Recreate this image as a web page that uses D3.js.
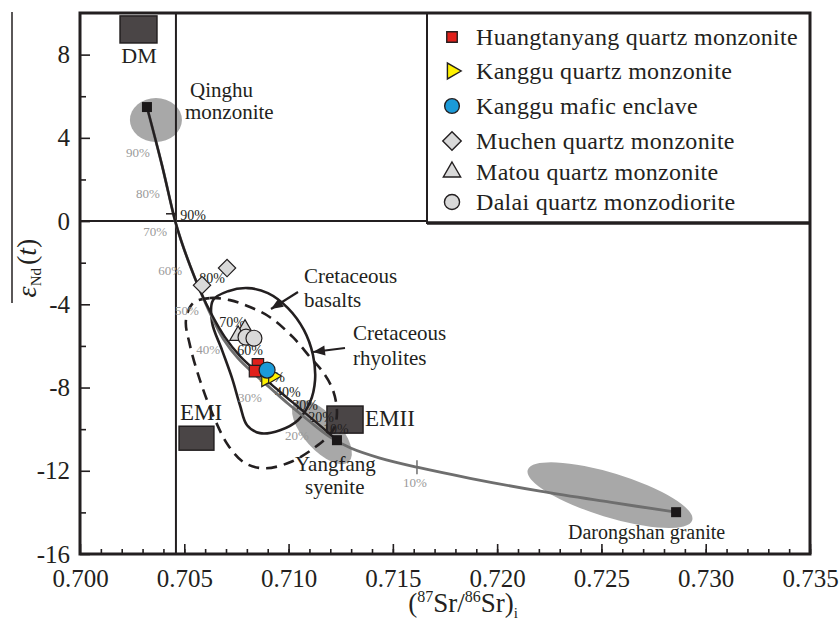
<!DOCTYPE html>
<html>
<head>
<meta charset="utf-8">
<script src="https://cdn.jsdelivr.net/npm/d3@7"></script>
<style>
  body { margin: 0; background: #fff; }
  text { font-family: "Liberation Serif", "DejaVu Serif", serif; fill: #231f20; }
</style>
</head>
<body>
<svg id="chart"></svg>
<script>
// sample groups  [87Sr/86Sr, eNd(t)]
const huangtanyang = [[0.70853, -6.88], [0.70839, -7.21]];
const kangguQM = [[0.70892, -7.60], [0.70925, -7.45]];
const kangguME = [[0.70897, -7.16]];
const muchen = [[0.70705, -2.26], [0.70585, -3.08]];
const matou = [[0.70791, -5.20], [0.70758, -5.50]];
const dalai = [[0.70796, -5.58], [0.70834, -5.63]];

// end-members of the mixing curves
const endMembers = [
  { name: 'Qinghu', x: 0.70321, y: 5.48 },
  { name: 'Yangfang', x: 0.71232, y: -10.53 },
  { name: 'Darongshan', x: 0.72858, y: -13.99 }
];

// mantle reservoir boxes [x0, x1, y0, y1]
const reservoirs = [
  { name: 'DM', box: [0.70192, 0.70369, 8.56, 9.86] },
  { name: 'EMI', box: [0.70475, 0.70642, -11.01, -9.86] },
  { name: 'EMII', box: [0.71184, 0.71357, -10.19, -8.89] }
];

// Qinghu - Yangfang mixing curve
const curveQY = [
  [0.70321, 5.48], [0.70393, 2.69], [0.70455, 0.05], [0.70484, -0.91], [0.70527, -2.12],
  [0.70575, -3.32], [0.70633, -4.52], [0.70695, -5.58], [0.70767, -6.49], [0.70844, -7.21],
  [0.70921, -7.88], [0.71007, -8.61], [0.71103, -9.42], [0.71232, -10.53]
];
// Qinghu - Darongshan mixing curve
const curveQD = [
  [0.70321, 5.48], [0.70393, 2.69], [0.70455, 0.05], [0.70484, -0.91], [0.70527, -2.12],
  [0.70575, -3.32], [0.70630, -4.56], [0.70688, -5.68], [0.70758, -6.60], [0.70835, -7.34],
  [0.70912, -8.02], [0.70998, -8.78], [0.71100, -9.62], [0.71200, -10.38], [0.71300, -10.92],
  [0.71438, -11.39], [0.71616, -11.83], [0.71870, -12.36], [0.72206, -12.98], [0.72541, -13.51],
  [0.72858, -13.99]
];

const pctLabels = ['90%', '80%', '70%', '60%', '50%', '40%', '30%', '20%', '10%'];
const pctQY = [
  [0.70542, 0.29], [0.70633, -2.74], [0.70729, -4.86], [0.70815, -6.20], [0.70921, -7.50],
  [0.70997, -8.22], [0.71079, -8.85], [0.71156, -9.42], [0.71227, -10.00]
];
const pctQD = [
  [0.70278, 3.32], [0.70326, 1.35], [0.70360, -0.48], [0.70432, -2.36], [0.70513, -4.28],
  [0.70614, -6.15], [0.70815, -8.46], [0.71040, -10.29], [0.71606, -12.55]
];

// Cretaceous fields
const basalts = [
  [0.70638, -3.80], [0.70710, -3.37], [0.70805, -3.22], [0.70901, -3.46], [0.70997, -4.18],
  [0.71074, -5.24], [0.71117, -6.44], [0.71127, -7.64], [0.71103, -8.70], [0.71045, -9.57],
  [0.70959, -10.05], [0.70863, -10.19], [0.70801, -9.81], [0.70767, -8.85], [0.70729, -7.55],
  [0.70681, -6.20], [0.70633, -4.86]
];
const rhyolites = [
  [0.70542, -3.94], [0.70623, -3.70], [0.70719, -3.80], [0.70815, -4.13], [0.70911, -4.62],
  [0.71021, -5.58], [0.71103, -6.54], [0.71165, -7.26], [0.71213, -8.13], [0.71232, -9.23],
  [0.71213, -10.05], [0.71127, -10.87], [0.71007, -11.59], [0.70887, -11.88], [0.70791, -11.63],
  [0.70710, -10.77], [0.70638, -9.33], [0.70575, -7.64], [0.70527, -5.96], [0.70508, -4.76]
];

// composition fields of the end-members (centres)
const fields = [
  { x: 0.70364, y: 4.86 },
  { x: 0.71160, y: -10.14 },
  { x: 0.72541, y: -13.17 }
];

const chur = 0.7046;
const xTicks = [0.700, 0.705, 0.710, 0.715, 0.720, 0.725, 0.730, 0.735];
const yTicks = [-16, -12, -8, -4, 0, 4, 8];

const legendNames = [
  'Huangtanyang quartz monzonite',
  'Kanggu quartz monzonite',
  'Kanggu mafic enclave',
  'Muchen quartz monzonite',
  'Matou quartz monzonite',
  'Dalai quartz monzodiorite'
];

(() => {
  const ink = '#231f20';
  const svg = d3.select('#chart').attr('width', 840).attr('height', 624);

  const x = d3.scaleLinear().domain([0.700, 0.735]).range([80, 810]);
  const y = d3.scaleLinear().domain([-16, 10]).range([554, 13]);

  // gray composition fields
  const fieldStyle = [[26, 22, 0], [40, 18, 48], [86, 22, 17]];
  svg.append('g').selectAll('ellipse')
    .data(fields)
    .enter()
    .append('ellipse')
    .attr('transform', (d, i) => `translate(${x(d.x)},${y(d.y)}) rotate(${fieldStyle[i][2]})`)
    .attr('rx', (d, i) => fieldStyle[i][0])
    .attr('ry', (d, i) => fieldStyle[i][1])
    .attr('fill', '#a8a8a8');

  // reference lines
  svg.append('line')
    .attr('x1', x(chur)).attr('x2', x(chur))
    .attr('y1', y(10)).attr('y2', y(-16))
    .attr('stroke', ink).attr('stroke-width', 2);
  svg.append('line')
    .attr('x1', x(0.700)).attr('x2', x(0.735))
    .attr('y1', y(0)).attr('y2', y(0))
    .attr('stroke', ink).attr('stroke-width', 2);

  // reservoir boxes
  svg.append('g').selectAll('rect')
    .data(reservoirs)
    .enter()
    .append('rect')
    .attr('x', d => x(d.box[0]))
    .attr('y', d => y(d.box[3]))
    .attr('width', d => x(d.box[1]) - x(d.box[0]))
    .attr('height', d => y(d.box[2]) - y(d.box[3]))
    .attr('fill', '#4a4546')
    .attr('stroke', ink)
    .attr('stroke-width', 1.5);

  const lineGen = d3.line().x(d => x(d[0])).y(d => y(d[1])).curve(d3.curveCatmullRom);
  const loopGen = d3.line().x(d => x(d[0])).y(d => y(d[1])).curve(d3.curveCatmullRomClosed);

  // Cretaceous fields
  svg.append('path')
    .attr('d', loopGen(rhyolites))
    .attr('fill', 'none').attr('stroke', ink)
    .attr('stroke-width', 2.6).attr('stroke-dasharray', '11,7');
  svg.append('path')
    .attr('d', loopGen(basalts))
    .attr('fill', 'none').attr('stroke', ink)
    .attr('stroke-width', 2.6);

  // percentage labels
  svg.append('g').selectAll('text')
    .data(pctQD)
    .enter()
    .append('text')
    .attr('x', d => x(d[0])).attr('y', d => y(d[1]))
    .attr('dy', '0.35em').attr('text-anchor', 'middle')
    .style('font-size', '13px').style('fill', '#9a9a9a')
    .text((d, i) => pctLabels[i]);
  svg.append('g').selectAll('text')
    .data(pctQY)
    .enter()
    .append('text')
    .attr('x', d => x(d[0])).attr('y', d => y(d[1]))
    .attr('dy', '0.35em').attr('text-anchor', 'middle')
    .style('font-size', '14px')
    .text((d, i) => pctLabels[i]);

  // mixing curves
  svg.append('path')
    .attr('d', lineGen(curveQD))
    .attr('fill', 'none').attr('stroke', '#6e6e6e').attr('stroke-width', 2.8);
  svg.append('path')
    .attr('d', lineGen(curveQY))
    .attr('fill', 'none').attr('stroke', ink).attr('stroke-width', 2.4);

  // small marks on the curves
  svg.append('line')
    .attr('x1', x(pctQD[8][0]) + 2).attr('x2', x(pctQD[8][0]) + 2)
    .attr('y1', y(-11.83) - 7).attr('y2', y(-11.83) + 7)
    .attr('stroke', '#6e6e6e').attr('stroke-width', 1.5);
  svg.append('line')
    .attr('x1', x(0.70441) - 6).attr('x2', x(0.70441) + 4)
    .attr('y1', y(0.35)).attr('y2', y(0.35))
    .attr('stroke', ink).attr('stroke-width', 1.5);

  // end-member squares
  svg.append('g').selectAll('rect')
    .data(endMembers)
    .enter()
    .append('rect')
    .attr('x', d => x(d.x) - 5).attr('y', d => y(d.y) - 5)
    .attr('width', 10).attr('height', 10)
    .attr('fill', '#1a1718');

  // sample symbols
  const groups = [
    { data: huangtanyang, type: d3.symbolSquare, size: 130, rot: 0, fill: '#e0201b' },
    { data: kangguQM, type: d3.symbolTriangle, size: 95, rot: 90, fill: '#fff100' },
    { data: kangguME, type: d3.symbolCircle, size: 200, rot: 0, fill: '#1b9ad8' },
    { data: muchen, type: d3.symbolSquare, size: 150, rot: 45, fill: '#d9d9d9' },
    { data: matou, type: d3.symbolTriangle, size: 120, rot: 0, fill: '#d9d9d9' },
    { data: dalai, type: d3.symbolCircle, size: 200, rot: 0, fill: '#d9d9d9' }
  ];
  const order = [3, 4, 5, 0, 1, 2];
  order.forEach(k => {
    const g = groups[k];
    svg.append('g').selectAll('path')
      .data(g.data)
      .enter()
      .append('path')
      .attr('d', d3.symbol().type(g.type).size(g.size))
      .attr('transform', d => `translate(${x(d[0])},${y(d[1])}) rotate(${g.rot})`)
      .attr('fill', g.fill)
      .attr('stroke', ink)
      .attr('stroke-width', 1.2);
  });

  // annotations
  const notes = [
    { t: 'DM', x: 139, y: 63, s: 22, a: 'middle' },
    { t: 'Qinghu', x: 190, y: 97, s: 21 },
    { t: 'monzonite', x: 185, y: 119, s: 21 },
    { t: 'Cretaceous', x: 304, y: 283, s: 21 },
    { t: 'basalts', x: 304, y: 307, s: 21 },
    { t: 'Cretaceous', x: 353, y: 340, s: 21 },
    { t: 'rhyolites', x: 353, y: 365, s: 21 },
    { t: 'EMI', x: 180, y: 420, s: 23 },
    { t: 'EMII', x: 365, y: 426, s: 23 },
    { t: 'Yangfang', x: 295, y: 471, s: 21 },
    { t: 'syenite', x: 305, y: 494, s: 21 },
    { t: 'Darongshan granite', x: 568, y: 539, s: 20 }
  ];
  svg.append('g').selectAll('text')
    .data(notes)
    .enter()
    .append('text')
    .attr('x', d => d.x).attr('y', d => d.y)
    .attr('text-anchor', d => d.a || 'start')
    .style('font-size', d => d.s + 'px')
    .text(d => d.t);

  // arrows
  const arrow = (x1, y1, x2, y2) => {
    svg.append('line')
      .attr('x1', x1).attr('y1', y1).attr('x2', x2).attr('y2', y2)
      .attr('stroke', ink).attr('stroke-width', 2.2);
    const ang = Math.atan2(y2 - y1, x2 - x1);
    const L = 12, W = 5;
    const p = [
      [x2, y2],
      [x2 - L * Math.cos(ang) + W * Math.sin(ang), y2 - L * Math.sin(ang) - W * Math.cos(ang)],
      [x2 - L * Math.cos(ang) - W * Math.sin(ang), y2 - L * Math.sin(ang) + W * Math.cos(ang)]
    ];
    svg.append('polygon').attr('points', p.join(' ')).attr('fill', ink);
  };
  arrow(298, 292, 271, 309);
  arrow(345, 348, 313, 352);

  // axes
  const xAxis = svg.append('g')
    .attr('transform', `translate(0,${y(-16)})`)
    .call(d3.axisBottom(x).tickValues(xTicks).tickSize(-10).tickPadding(10).tickFormat(d3.format('.3f')));
  svg.append('g')
    .attr('transform', `translate(0,${y(-16)})`)
    .call(d3.axisBottom(x).tickValues(d3.range(0.701, 0.735, 0.001)).tickSize(-5).tickFormat(''));
  svg.append('g')
    .attr('transform', `translate(${x(0.700)},0)`)
    .call(d3.axisLeft(y).tickValues(yTicks).tickSize(-10).tickPadding(10).tickFormat(d => String(d)));
  svg.append('g')
    .attr('transform', `translate(${x(0.700)},0)`)
    .call(d3.axisLeft(y).tickValues([-14, -10, -6, -2, 2, 6]).tickSize(-6).tickFormat(''));
  svg.selectAll('.domain').remove();
  svg.selectAll('.tick line').attr('stroke', ink).attr('stroke-width', 1.6);
  svg.selectAll('.tick text')
    .style('font-family', '"Liberation Serif", serif')
    .style('font-size', '25px')
    .attr('fill', ink);
  xAxis.selectAll('.tick text').attr('dy', '0.9em');

  // legend
  const lg = svg.append('g');
  lg.append('rect')
    .attr('x', 427).attr('y', 13).attr('width', 383).attr('height', 210)
    .attr('fill', '#fff').attr('stroke', ink).attr('stroke-width', 2);
  lg.append('line').attr('x1', 427).attr('x2', 811).attr('y1', 223).attr('y2', 223)
    .attr('stroke', ink).attr('stroke-width', 3.5);
  const legendY = [37, 71, 106, 141, 172, 202];
  const legendSize = [110, 110, 170, 170, 130, 180];
  lg.selectAll('path')
    .data(groups)
    .enter()
    .append('path')
    .attr('d', (d, i) => d3.symbol().type(d.type).size(legendSize[i])())
    .attr('transform', (d, i) => `translate(452,${legendY[i]}) rotate(${d.rot})`)
    .attr('fill', d => d.fill)
    .attr('stroke', ink)
    .attr('stroke-width', 1.4);
  lg.selectAll('text')
    .data(legendNames)
    .enter()
    .append('text')
    .attr('x', 476).attr('y', (d, i) => legendY[i])
    .attr('dy', '0.33em')
    .style('font-size', '24px')
    .style('letter-spacing', '0.3px')
    .text(d => d);

  // frame
  svg.append('rect')
    .attr('x', x(0.700)).attr('y', y(10))
    .attr('width', x(0.735) - x(0.700)).attr('height', y(-16) - y(10))
    .attr('fill', 'none').attr('stroke', ink).attr('stroke-width', 3);

  // axis titles
  const xt = svg.append('text')
    .attr('x', 463).attr('y', 612)
    .attr('text-anchor', 'middle')
    .style('font-size', '27px');
  xt.append('tspan').text('(');
  xt.append('tspan').attr('dy', -10).style('font-size', '16px').text('87');
  xt.append('tspan').attr('dy', 10).text('Sr/');
  xt.append('tspan').attr('dy', -10).style('font-size', '16px').text('86');
  xt.append('tspan').attr('dy', 10).text('Sr)');
  xt.append('tspan').attr('dy', 6).style('font-size', '15px').text('i');

  svg.append('line')
    .attr('x1', 12).attr('x2', 12).attr('y1', 12).attr('y2', 303)
    .attr('stroke', ink).attr('stroke-width', 1.5);
  const yt = svg.append('text')
    .attr('transform', 'translate(36,268) rotate(-90)')
    .attr('text-anchor', 'middle')
    .style('font-size', '28px');
  yt.append('tspan').style('font-style', 'italic').text('ε');
  yt.append('tspan').attr('dy', 5).style('font-size', '15px').text('Nd');
  yt.append('tspan').attr('dy', -5).attr('dx', 3).text('(');
  yt.append('tspan').style('font-style', 'italic').text('t');
  yt.append('tspan').text(')');
})();
</script>
</body>
</html>
